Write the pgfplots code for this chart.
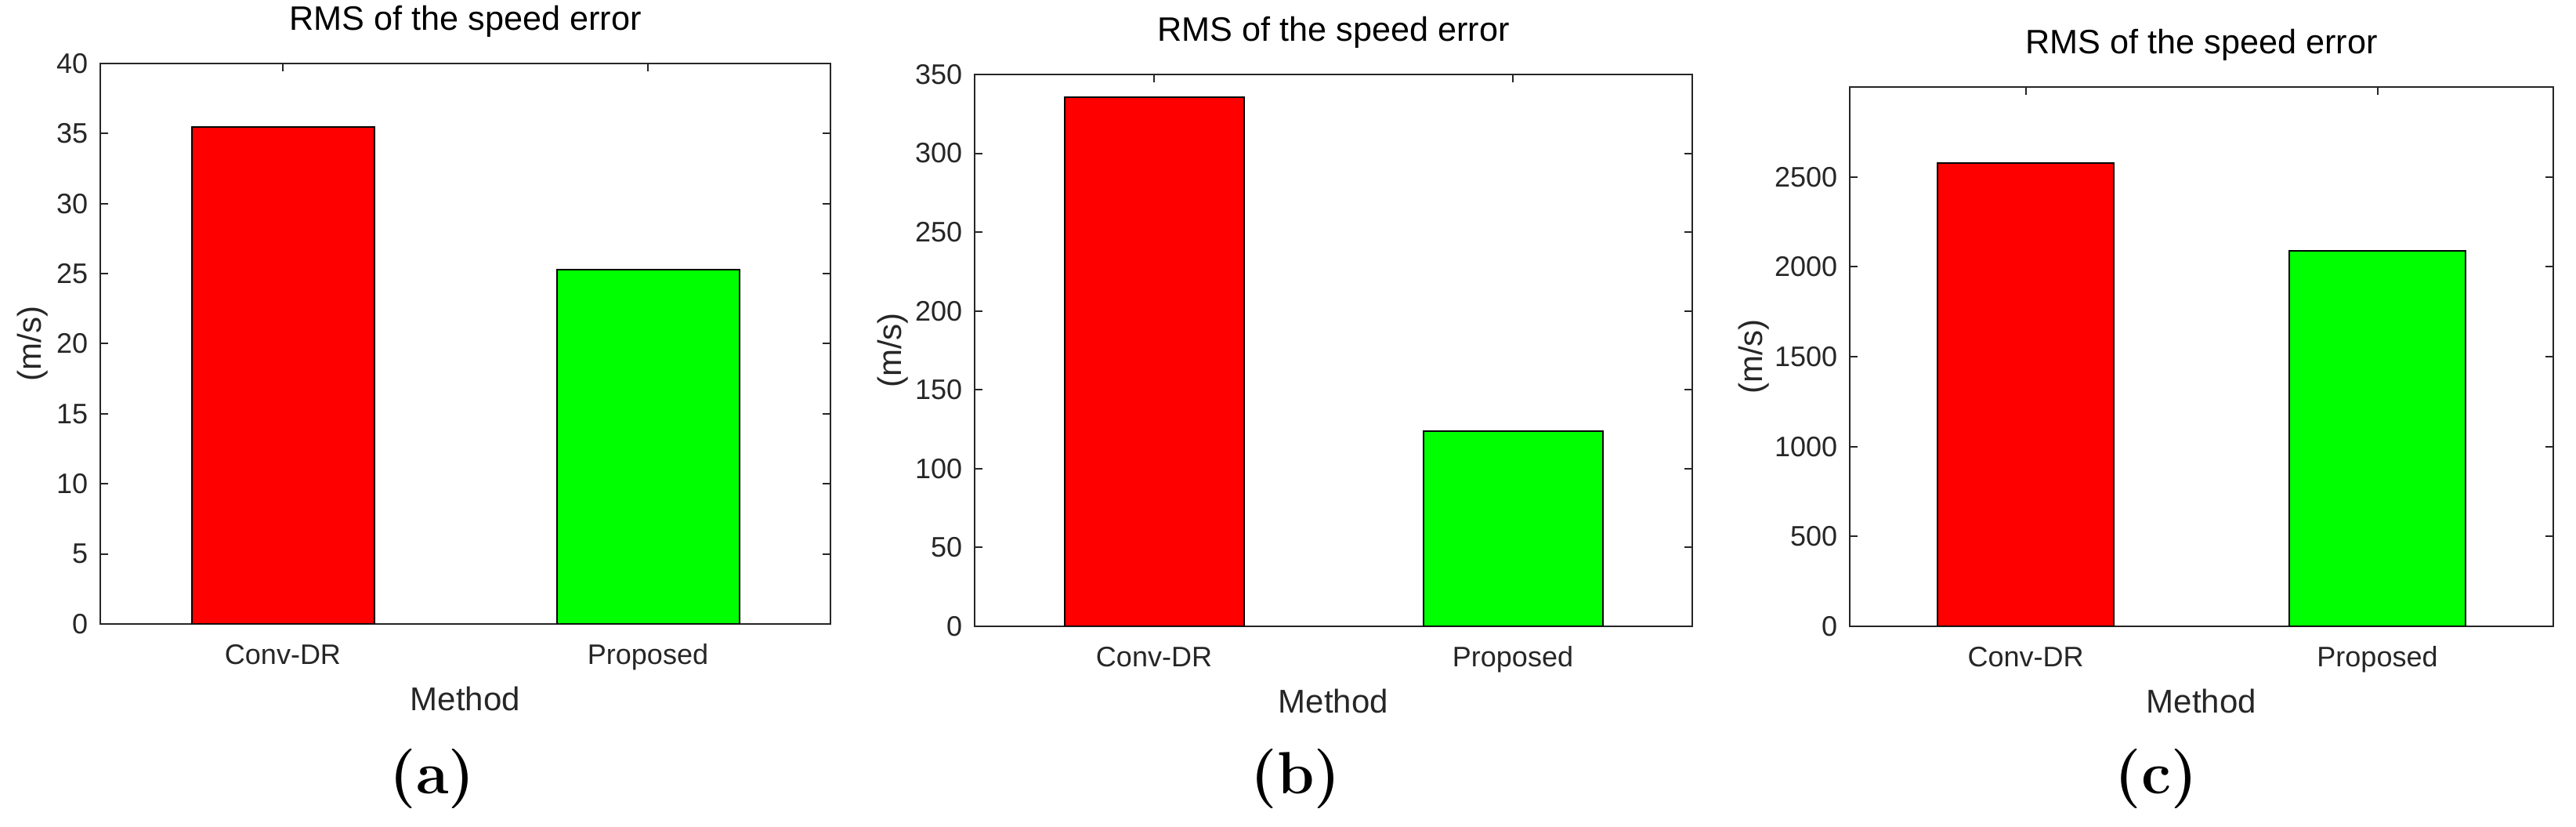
\documentclass[border=0pt]{standalone}
\usepackage{fontspec}
\setsansfont{Liberation Sans}
\usepackage{pgfplots}
\pgfplotsset{compat=1.18}
\definecolor{mgray}{HTML}{262626}
\definecolor{barred}{HTML}{FF0000}
\definecolor{bargreen}{HTML}{00FF00}

\pgfplotsset{
  rms/.style={
    scale only axis,
    anchor=south west,
    axis line style={mgray, line width=0.5pt},
    every tick/.style={mgray, line width=0.5pt},
    major tick length=2.5pt,
    tick align=inside,
    xmin=0.5, xmax=2.5, ymin=0,
    xtick={1,2}, xticklabels={Conv-DR,Proposed},
    scaled y ticks=false,
    /pgf/number format/assume math mode=true,
    /pgf/number format/1000 sep={},
    tick label style={font=\sffamily\fontsize{9}{10}\selectfont, text=mgray},
    xticklabel style={anchor=base, yshift=-13pt, inner sep=0pt},
    yticklabel style={anchor=east, xshift=-3.75pt, inner sep=0pt},
    title style={font=\sffamily\fontsize{10.8}{12}\selectfont, text=black,
      at={(0.5,1)}, anchor=base, yshift=4.6pt, inner sep=0pt},
    xlabel style={font=\sffamily\fontsize{10.5}{12}\selectfont, text=mgray,
      at={(axis description cs:0.5,0)}, anchor=base, yshift=-27.75pt, inner sep=0pt},
    ylabel style={font=\sffamily\fontsize{10.5}{12}\selectfont, text=mgray,
      anchor=base, inner sep=0pt},
    title={RMS of the speed error},
    xlabel={Method},
    ylabel={(m/s)},
  },
  bar/.style={ybar, bar width=0.5, bar shift=0pt, draw=black, line width=0.5pt},
}

\begin{document}
\begin{tikzpicture}
\useasboundingbox (0,0) rectangle (822pt,263.75pt);

% (a)
\begin{axis}[rms, at={(32pt,64.75pt)}, width=233pt, height=178.75pt,
  ymax=40, ytick={0,5,...,40},
  ylabel style={at={(axis description cs:-0.0805,0.5)}}]
\addplot[bar, fill=barred] coordinates {(1,35.45)};
\addplot[bar, fill=bargreen] coordinates {(2,25.27)};
\end{axis}

% (b)
\begin{axis}[rms, at={(311pt,64pt)}, width=229pt, height=176pt,
  ymax=350, ytick={0,50,...,350},
  ylabel style={at={(axis description cs:-0.1026,0.5)}}]
\addplot[bar, fill=barred] coordinates {(1,335.5)};
\addplot[bar, fill=bargreen] coordinates {(2,123.8)};
\end{axis}

% (c)
\begin{axis}[rms, at={(590.25pt,64pt)}, width=224.5pt, height=172pt,
  ymax=3000, ytick={0,500,...,2500},
  ylabel style={at={(axis description cs:-0.1247,0.5)}}]
\addplot[bar, fill=barred] coordinates {(1,2578)};
\addplot[bar, fill=bargreen] coordinates {(2,2088)};
\end{axis}

\node[anchor=base, font=\fontsize{19}{20}\selectfont\bfseries] at (138pt,10.5pt) {(a)};
\node[anchor=base, font=\fontsize{19}{20}\selectfont\bfseries] at (413.5pt,10.5pt) {(b)};
\node[anchor=base, font=\fontsize{19}{20}\selectfont\bfseries] at (688pt,10.5pt) {(c)};
\end{tikzpicture}
\end{document}
